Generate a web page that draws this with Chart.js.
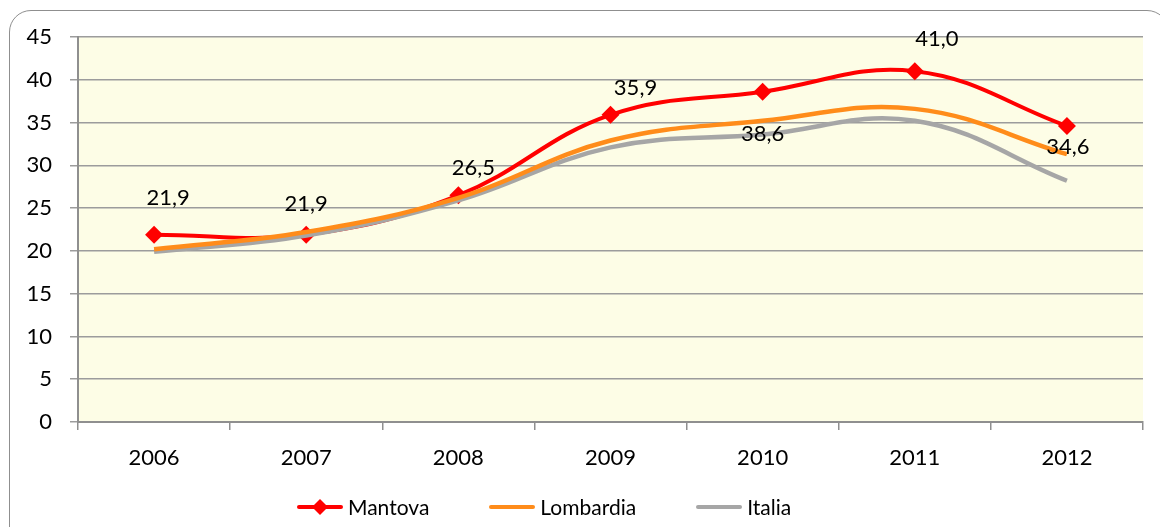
<!DOCTYPE html>
<html>
<head>
<meta charset="utf-8">
<script src="https://cdn.jsdelivr.net/npm/chart.js@4/dist/chart.umd.min.js"></script>
<style>
    html, body { margin: 0; padding: 0; background: #fff; overflow: hidden; }
    #wrap { position: relative; width: 1160px; height: 527px; }
    #frame {
        position: absolute; left: 9px; top: 10px; width: 1160px; height: 560px;
        border: 1.5px solid #8f8f8f; border-radius: 22px; box-sizing: border-box;
    }
    canvas#chart { position: absolute; left: 0; top: 0; }
    #legend {
        position: absolute; left: 297px; top: 494px;
        display: flex; align-items: center;
        font-family: Lato, "Open Sans", sans-serif; font-size: 21px; color: #000;
    }
    .legend-item { display: flex; align-items: center; margin-right: 60px; }
    .legend-item canvas { margin-right: 5px; }
</style>
</head>
<body>
<div id="wrap">
    <div id="frame"></div>
    <canvas id="chart" width="1160" height="527"></canvas>
    <div id="legend"></div>
</div>
<script>
const years = ['2006', '2007', '2008', '2009', '2010', '2011', '2012'];
const mantova = [21.9, 21.9, 26.5, 35.9, 38.6, 41.0, 34.6];
const lombardia = [20.2, 22.2, 26.2, 32.9, 35.2, 36.6, 31.3];
const italia = [19.9, 21.8, 25.9, 32.1, 33.6, 35.2, 28.2];

// nudge of each Mantova value label from its point [dx, dy]
const labelNudge = [[14, -37], [0, -31], [15, -27], [25, -27], [0, 42], [22, -32], [1, 21]];

const FONT = 'Lato, "Open Sans", sans-serif';

// legend symbol: short line, with a diamond for Mantova
function legendIcon(color, diamond) {
    const c = document.createElement('canvas');
    c.width = 46; c.height = 20;
    const ctx = c.getContext('2d');
    ctx.strokeStyle = color;
    ctx.lineWidth = 4;
    ctx.lineCap = 'round';
    ctx.beginPath();
    ctx.moveTo(2, 10);
    ctx.lineTo(44, 10);
    ctx.stroke();
    if (diamond) {
        ctx.fillStyle = color;
        ctx.beginPath();
        ctx.moveTo(23, 2); ctx.lineTo(31, 10); ctx.lineTo(23, 18); ctx.lineTo(15, 10);
        ctx.closePath();
        ctx.fill();
    }
    return c;
}

const plotBackground = {
    id: 'plotBackground',
    beforeDraw(chart) {
        const a = chart.chartArea;
        const ctx = chart.ctx;
        ctx.save();
        ctx.fillStyle = '#fdfde6';
        ctx.fillRect(a.left, a.top, a.right - a.left, a.bottom - a.top);
        ctx.restore();
    }
};

const valueLabels = {
    id: 'valueLabels',
    afterDatasetsDraw(chart) {
        const meta = chart.getDatasetMeta(0);
        const ctx = chart.ctx;
        ctx.save();
        ctx.font = '22px ' + FONT;
        ctx.fillStyle = '#000';
        ctx.textAlign = 'center';
        ctx.textBaseline = 'middle';
        meta.data.forEach((pt, i) => {
            const txt = mantova[i].toFixed(1).replace('.', ',');
            ctx.fillText(txt, pt.x + labelNudge[i][0], pt.y + labelNudge[i][1]);
        });
        ctx.restore();
    }
};

const chart = new Chart(document.getElementById('chart'), {
    type: 'line',
    data: {
        labels: years,
        datasets: [{
            label: 'Mantova',
            data: mantova,
            borderColor: '#ff0000',
            backgroundColor: '#ff0000',
            borderWidth: 4,
            pointStyle: 'rectRot',
            pointRadius: 9,
            pointHoverRadius: 9,
            pointBorderWidth: 0,
            tension: 0.4,
            order: 3
        }, {
            label: 'Lombardia',
            data: lombardia,
            borderColor: '#ff8c1a',
            backgroundColor: '#ff8c1a',
            borderWidth: 4.5,
            pointRadius: 0,
            tension: 0.4,
            order: 1
        }, {
            label: 'Italia',
            data: italia,
            borderColor: '#a6a6a6',
            backgroundColor: '#a6a6a6',
            borderWidth: 4.5,
            pointRadius: 0,
            tension: 0.4,
            order: 2
        }]
    },
    options: {
        responsive: false,
        animation: false,
        layout: {
            padding: { left: 10, right: 17, top: 37, bottom: 5 }
        },
        plugins: {
            tooltip: { enabled: false },
            legend: { display: false }
        },
        scales: {
            x: {
                offset: true,
                grid: {
                    display: true,
                    offset: true,
                    drawOnChartArea: false,
                    color: '#8f8f8f',
                    lineWidth: 1.5,
                    tickLength: 8
                },
                border: { color: '#8f8f8f', width: 2 },
                ticks: {
                    color: '#000',
                    font: { family: FONT, size: 22 },
                    padding: 15
                },
                afterFit(scale) { scale.height = 100; }
            },
            y: {
                min: 0,
                max: 45,
                ticks: {
                    stepSize: 5,
                    color: '#000',
                    font: { family: FONT, size: 22 },
                    padding: 18
                },
                grid: {
                    color: '#9c9c9c',
                    lineWidth: 1.5,
                    tickLength: 8
                },
                border: { color: '#8f8f8f', width: 2 },
                afterFit(scale) { scale.width = 68; }
            }
        }
    },
    plugins: [plotBackground, valueLabels]
});

// html legend built from the datasets
const legendEl = document.getElementById('legend');
chart.data.datasets.forEach((ds, i) => {
    const item = document.createElement('div');
    item.className = 'legend-item';
    item.appendChild(legendIcon(ds.borderColor, i === 0));
    const label = document.createElement('span');
    label.textContent = ds.label;
    item.appendChild(label);
    legendEl.appendChild(item);
});
</script>
</body>
</html>
